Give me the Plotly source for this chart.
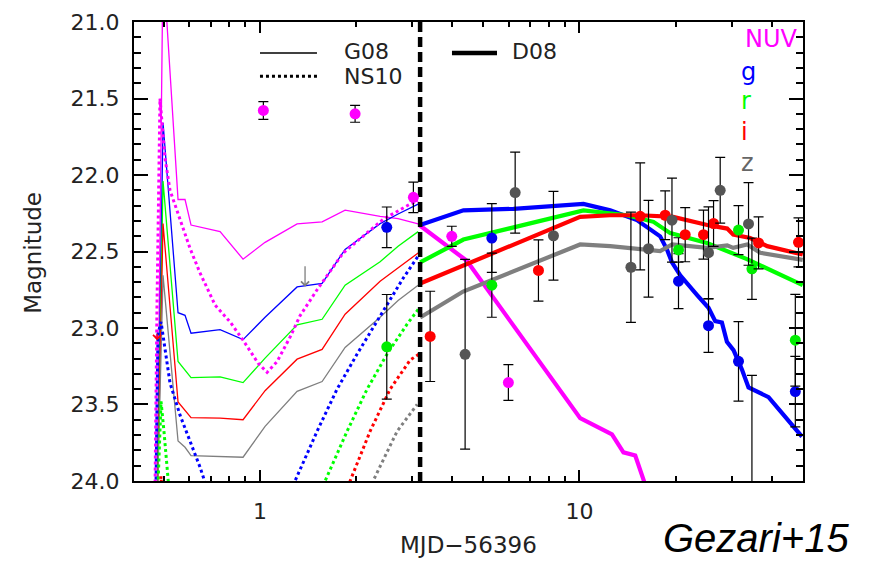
import numpy as np
import plotly.graph_objects as go

# ---------------- data ----------------
BANDS = ["NUV", "g", "r", "i", "z"]
line_colors = {"NUV": "#ff00ff", "g": "#0000ff", "r": "#00ff00", "i": "#ff0000", "z": "#7f7f7f"}
point_colors = {"NUV": "#ff00ff", "g": "#0000ee", "r": "#00ee00", "i": "#ff0000", "z": "#555555"}

# G08 models (thin solid), common time grid
g08_t = [0.4757, 0.4968, 0.5536, 0.5822, 0.608, 0.7496, 0.8846, 1.0367, 1.306, 1.564, 1.846, 2.376, 2.705, 3.125]
g08_mag = {
    "NUV": [24.2, 20.6, 22.16, 22.16, 22.327, 22.37, 22.55, 22.44, 22.32, 22.306, 22.23, 22.27, 22.285, 22.32],
    "g":   [24.2, 21.658, 22.90, 22.917, 23.034, 23.011, 23.076, 22.93, 22.732, 22.709, 22.486, 22.318, 22.255, 22.19],
    "r":   [24.2, 22.04, 23.219, 23.28, 23.325, 23.32, 23.357, 23.197, 22.98, 22.943, 22.72, 22.567, 22.465, 22.37],
    "i":   [24.2, 22.317, 23.484, 23.535, 23.586, 23.59, 23.60, 23.41, 23.204, 23.14, 22.91, 22.694, 22.605, 22.51],
    "z":   [24.2, 22.656, 23.739, 23.78, 23.834, 23.84, 23.845, 23.643, 23.414, 23.35, 23.127, 22.93, 22.82, 22.72],
}

# NS10 models (dotted)
ns10_t = {
    "NUV": [0.469, 0.4757, 0.486, 0.504, 0.5225, 0.5616, 0.6036, 0.6487, 0.7231, 0.8055, 0.8846, 0.9857,
            1.0518, 1.1304, 1.2414, 1.334, 1.5085, 1.8197, 2.428, 2.950, 3.125],
    "g": [0.4723, 0.4791, 0.4897, 0.504, 0.5225, 0.5616, 0.6036, 0.6487, 0.6726, 0.80, 1.10, 1.287,
          1.5085, 1.742, 2.013, 2.292, 2.499, 2.805, 3.15],
    "r": [0.4791, 0.4897, 0.5004, 0.5163, 0.65, 1.40, 1.598, 1.873, 2.163, 2.499, 2.886, 3.15],
    "i": [0.4791, 0.4897, 0.5004, 0.60, 1.70, 1.914, 2.211, 2.554, 2.95, 3.15],
    "z": [2.0, 2.259, 2.686, 3.104],
}
ns10_mag = {
    "NUV": [24.05, 22.85, 21.50, 21.89, 22.10, 22.29, 22.48, 22.64, 22.85, 22.96, 23.08, 23.23,
            23.29, 23.22, 23.06, 22.92, 22.75, 22.51, 22.29, 22.19, 22.17],
    "g": [24.03, 23.04, 22.96, 23.13, 23.36, 23.57, 23.74, 23.91, 24.01, 24.6, 24.6, 24.0,
          23.675, 23.40, 23.17, 22.975, 22.85, 22.675, 22.52],
    "r": [24.03, 23.48, 23.68, 24.01, 24.6, 24.6, 24.0, 23.675, 23.40, 23.17, 22.975, 22.87],
    "i": [24.3, 23.97, 24.3, 24.6, 24.6, 24.0, 23.675, 23.40, 23.21, 23.17],
    "z": [24.6, 24.0, 23.675, 23.50],
}

# D08 models (thick solid)
d08_t = {
    "NUV": [3.15, 4.44, 10.05, 12.64, 13.73, 14.95, 16.65, 20.0],
    "g": [3.17, 4.332, 6.216, 10.29, 12.48, 15.13, 17.89, 18.78, 19.48, 20.68, 23.32, 25.35, 26.61,
          27.92, 28.95, 30.36, 32.26, 33.83, 39.08, 49.71],
    "r": [3.17, 4.332, 10.29, 14.08, 17.05, 19.24, 25.06, 33.44, 50.0],
    "i": [3.17, 10.05, 12.48, 15.49, 19.66, 25.12, 29.01, 30.29, 34.24, 38.71, 50.0],
    "z": [3.17, 4.323, 10.05, 12.48, 17.89, 19.51, 25.12, 29.01, 30.29, 33.5, 36.8, 50.0],
}
d08_mag = {
    "NUV": [22.327, 22.561, 23.59, 23.696, 23.813, 23.834, 24.12, 25.0],
    "g": [22.327, 22.231, 22.221, 22.189, 22.231, 22.295, 22.401, 22.486, 22.571, 22.656, 22.783, 22.868,
          22.955, 22.964, 23.091, 23.145, 23.272, 23.389, 23.452, 23.71],
    "r": [22.571, 22.422, 22.231, 22.263, 22.306, 22.38, 22.444, 22.55, 22.72],
    "i": [22.709, 22.274, 22.263, 22.263, 22.274, 22.327, 22.35, 22.39, 22.412, 22.465, 22.52],
    "z": [22.932, 22.762, 22.454, 22.465, 22.497, 22.454, 22.476, 22.46, 22.476, 22.454, 22.508, 22.555],
}

# observed photometry
obs_t = {
    "NUV": [1.024, 1.984, 3.02, 3.983, 5.99],
    "g": [2.493, 5.316, 20.42, 25.35, 31.47, 47.4],
    "r": [2.493, 5.316, 20.42, 31.47, 34.67, 47.4],
    "i": [3.408, 7.44, 15.49, 18.55, 21.43, 24.45, 26.29, 36.37, 48.5],
    "z": [4.385, 6.29, 8.29, 14.49, 16.45, 19.48, 25.35, 27.58, 33.83, 34.67],
}
obs_mag = {
    "NUV": [21.578, 21.60, 22.146, 22.401, 23.357],
    "g": [22.342, 22.412, 22.694, 22.985, 23.218, 23.416],
    "r": [23.123, 22.72, 22.49, 22.36, 22.613, 23.08],
    "i": [23.055, 22.624, 22.27, 22.263, 22.39, 22.39, 22.317, 22.444, 22.44],
    "z": [23.172, 22.115, 22.397, 22.603, 22.482, 22.295, 22.508, 22.10, 22.32, 24.5],
}
obs_err = {
    "NUV": [0.058, 0.055, 0.10, 0.066, 0.117],
    "g": [0.133, 0.225, 0.18, 0.175, 0.26, 0.23],
    "r": [0.342, 0.21, 0.08, 0.16, 0.2, 0.3],
    "i": [0.295, 0.2, 0.35, 0.16, 0.177, 0.16, 0.15, 0.17, 0.16],
    "z": [0.62, 0.265, 0.29, 0.36, 0.316, 0.275, 0.3, 0.215, 0.27, 1.19],
}

# upper limits (arrows): time, magnitude of arrow tip
limit_t = [1.383, 0.476]
limit_mag = [22.73, 23.08]
limit_colors = ["#7f7f7f", "#ff0000"]

peak_t = 3.17  # vertical dashed line
x_range = [0.403, 50.1]
y_range = [24.0005, 20.9995]
y_ticks = [21.0, 21.5, 22.0, 22.5, 23.0, 23.5, 24.0]
x_major = [1, 10]
x_minor = [0.5, 0.6, 0.7, 0.8, 0.9, 2, 3, 4, 5, 6, 7, 8, 9, 20, 30, 40]

FONT = "DejaVu Sans"

fig = go.Figure()

for b in BANDS:
    fig.add_trace(go.Scatter(x=g08_t, y=g08_mag[b], mode="lines",
                             line=dict(color=line_colors[b], width=1.3)))
for b in BANDS:
    fig.add_trace(go.Scatter(x=ns10_t[b], y=ns10_mag[b], mode="lines",
                             line=dict(color=line_colors[b], width=3, dash="dot")))
for b in BANDS:
    fig.add_trace(go.Scatter(x=d08_t[b], y=d08_mag[b], mode="lines",
                             line=dict(color=line_colors[b], width=4.2)))

fig.add_trace(go.Scatter(x=[peak_t, peak_t], y=[21.0, 24.0], mode="lines",
                         line=dict(color="black", width=4.5, dash="10px,5px")))

for b in BANDS:
    fig.add_trace(go.Scatter(x=obs_t[b], y=obs_mag[b], mode="markers",
                             marker=dict(size=11, color=point_colors[b]),
                             error_y=dict(type="data", array=obs_err[b], color="black",
                                          thickness=1.2, width=5)))

ann = []
for t, m, c in zip(limit_t, limit_mag, limit_colors):
    ann.append(dict(x=np.log10(t), y=m, xref="x", yref="y", text="", showarrow=True,
                    arrowhead=4, arrowsize=1.2, arrowwidth=1.3, arrowcolor=c,
                    ax=0, ay=-22 if c == "#7f7f7f" else -8))

# band labels
band_label_y = [0.962, 0.891, 0.827, 0.761, 0.692]
band_label_x = [0.910, 0.904, 0.904, 0.904, 0.904]
for b, xx, yy in zip(BANDS, band_label_x, band_label_y):
    ann.append(dict(x=xx, y=yy, xref="paper", yref="paper", text=b, showarrow=False,
                    xanchor="left", yanchor="middle",
                    font=dict(family=FONT, size=24, color=line_colors[b] if b != "z" else "#666666")))

# model legend
leg_text = [("G08", 0.3109, 0.936), ("NS10", 0.3109, 0.882), ("D08", 0.562, 0.936)]
for txt, xx, yy in leg_text:
    ann.append(dict(x=xx, y=yy, xref="paper", yref="paper", text=txt, showarrow=False,
                    xanchor="left", yanchor="middle", font=dict(family=FONT, size=22, color="#222222")))

ann.append(dict(x=0.5, y=-0.140, xref="paper", yref="paper", text="MJD\u221256396", showarrow=False,
                xanchor="center", yanchor="middle", font=dict(family=FONT, size=23, color="#222222")))
ann.append(dict(x=-0.151, y=0.497, xref="paper", yref="paper", text="Magnitude", showarrow=False,
                textangle=-90, xanchor="center", yanchor="middle",
                font=dict(family=FONT, size=23, color="#222222")))
ann.append(dict(x=0.9297, y=-0.125, xref="paper", yref="paper", text="<i>Gezari+15</i>", showarrow=False,
                xanchor="center", yanchor="middle",
                font=dict(family="Liberation Sans", size=40, color="black")))

shapes = [
    dict(type="line", xref="paper", yref="paper", x0=0.1883, x1=0.2735, y0=0.9327, y1=0.9327,
         line=dict(color="black", width=1.5)),
    dict(type="line", xref="paper", yref="paper", x0=0.1883, x1=0.2735, y0=0.8817, y1=0.8817,
         line=dict(color="black", width=3, dash="dot")),
    dict(type="line", xref="paper", yref="paper", x0=0.4753, x1=0.5426, y0=0.9327, y1=0.9327,
         line=dict(color="black", width=4.5)),
]

fig.update_layout(
    width=875, height=562,
    margin=dict(l=134, r=72, t=10, b=81),
    plot_bgcolor="white", paper_bgcolor="white",
    showlegend=False,
    annotations=ann, shapes=shapes,
    xaxis=dict(type="log", range=[np.log10(x_range[0]), np.log10(x_range[1])],
               tickmode="array", tickvals=x_major, ticktext=[str(v) for v in x_major],
               ticks="inside", ticklen=11, tickwidth=1.5, tickcolor="black",
               showline=True, linecolor="black", linewidth=2, mirror="allticks",
               showgrid=False, zeroline=False, ticklabelstandoff=10,
               tickfont=dict(family=FONT, size=22, color="#222222"),
               minor=dict(tickmode="array", tickvals=x_minor, ticks="inside", ticklen=5,
                          tickwidth=1.5, tickcolor="black", showgrid=False)),
    yaxis=dict(range=y_range, tickmode="array", tickvals=y_ticks,
               ticktext=[f"{v:.1f}" for v in y_ticks],
               ticks="inside", ticklen=14, tickwidth=1.5, tickcolor="black",
               showline=True, linecolor="black", linewidth=2, mirror="allticks",
               showgrid=False, zeroline=False, ticklabelstandoff=8,
               ticklabeloverflow="allow",
               tickfont=dict(family=FONT, size=22, color="#222222"),
               minor=dict(tick0=21.0, dtick=0.1, ticks="inside", ticklen=7, tickwidth=1.5,
                          tickcolor="black", showgrid=False)),
)

fig.write_html("out.html")
